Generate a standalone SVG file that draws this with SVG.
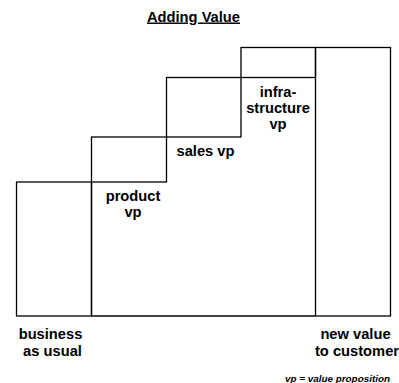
<svg xmlns="http://www.w3.org/2000/svg" width="399" height="383" viewBox="0 0 399 383">
<style>
.box{fill:none;stroke:#000;stroke-width:1.3}
.t{font-family:"Liberation Sans",Arial,sans-serif;font-weight:bold;font-size:14.7px;fill:#000;text-anchor:middle}
.n{font-family:"Liberation Sans",Arial,sans-serif;font-weight:bold;font-style:italic;font-size:9.9px;fill:#000;text-anchor:end}
</style>
<rect width="399" height="383" fill="#fff"/>
<text class="t" x="193.5" y="21.5" style="text-decoration:underline">Adding Value</text>
<g id="business">
<rect class="box" x="16.5" y="182" width="75" height="134"/>
<text class="t" x="50.5" y="338.5">business</text>
<text class="t" x="52.5" y="355.5">as usual</text>
</g>
<g id="product">
<rect class="box" x="91.5" y="137" width="75" height="45"/>
<line class="box" x1="91.5" y1="182" x2="91.5" y2="316"/>
<text class="t" x="133" y="201">product</text>
<text class="t" x="133" y="217">vp</text>
</g>
<g id="sales">
<rect class="box" x="166.5" y="77.5" width="74.5" height="59.5"/>
<text class="t" x="205.5" y="156">sales vp</text>
</g>
<g id="infra">
<rect class="box" x="241" y="47.5" width="74.5" height="30"/>
<text class="t" x="278" y="96.5">infra-</text>
<text class="t" x="278" y="112.5">structure</text>
<text class="t" x="278" y="128.5">vp</text>
</g>
<g id="newvalue">
<rect class="box" x="315.5" y="47.5" width="75" height="268.5"/>
<text class="t" x="355.5" y="338.5">new value</text>
<text class="t" x="357" y="355.5">to customer</text>
</g>
<g id="connectors">
<line class="box" x1="91.5" y1="316" x2="315.5" y2="316"/>
</g>
<text class="n" x="390" y="381.5">vp = value proposition</text>
</svg>
